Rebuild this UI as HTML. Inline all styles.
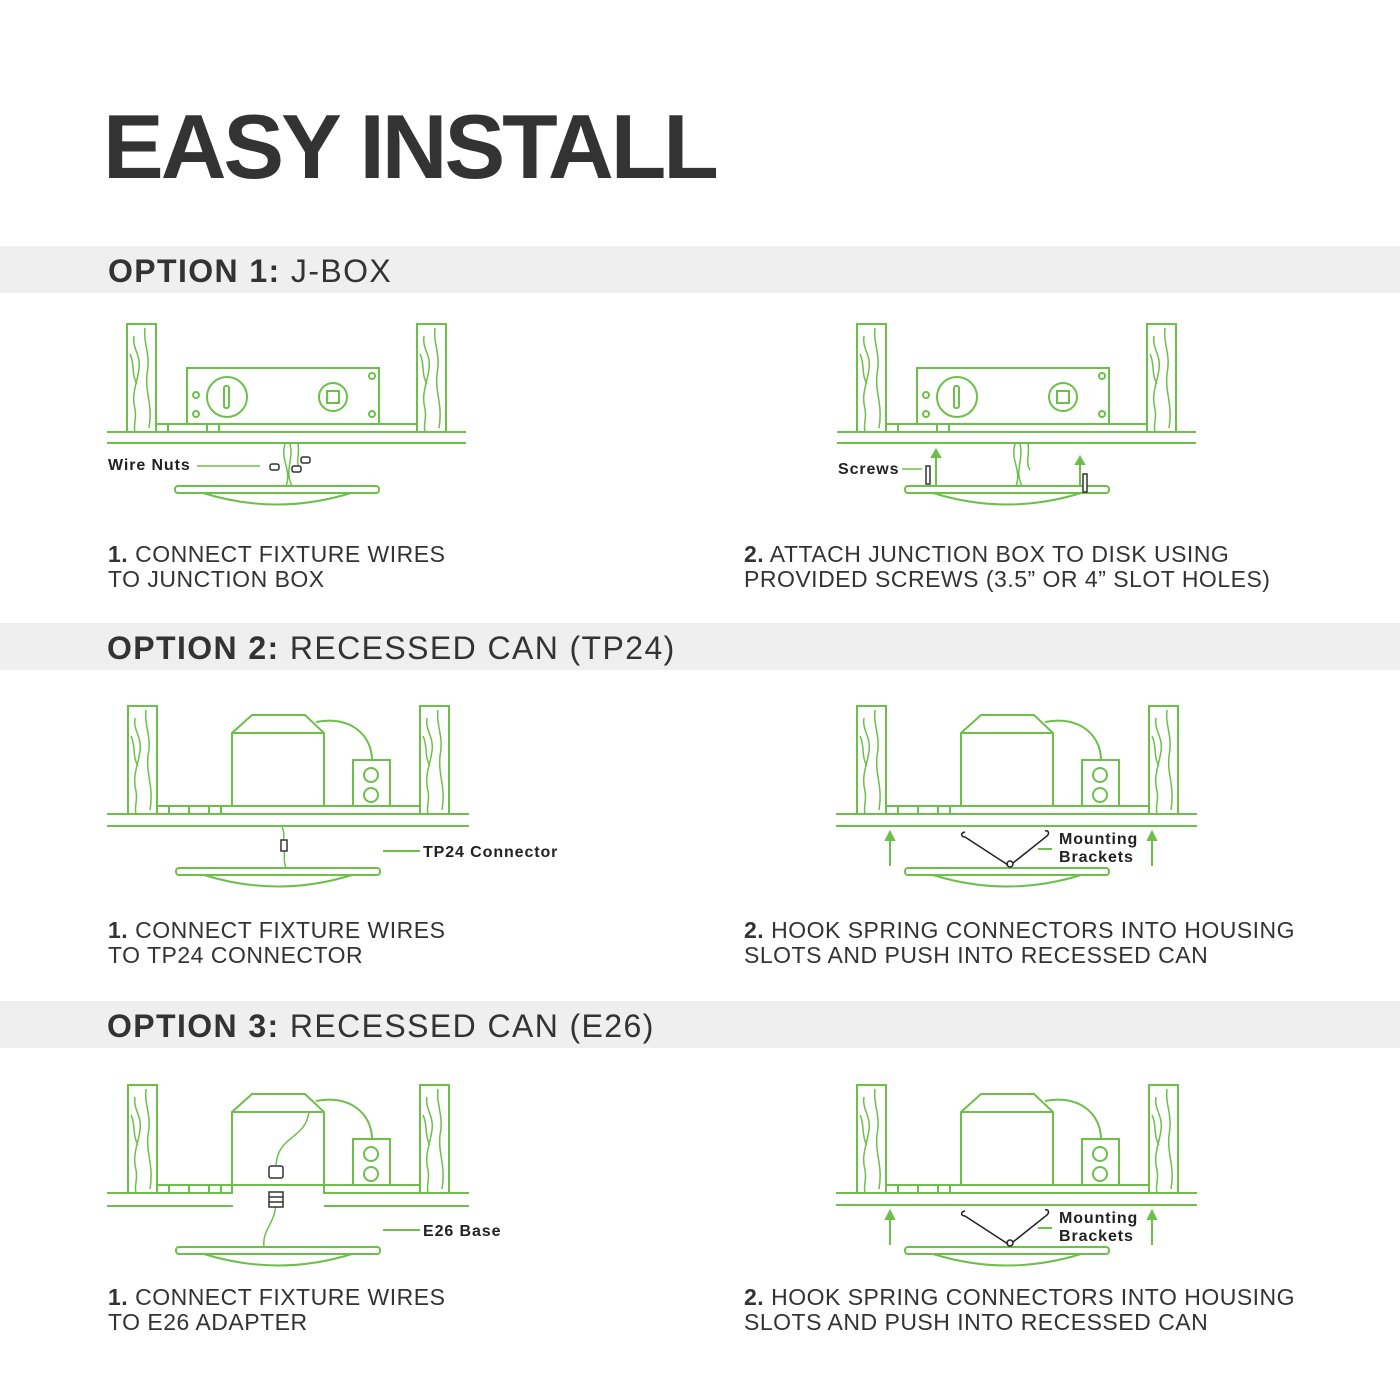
<!DOCTYPE html>
<html><head><meta charset="utf-8"><style>
body{margin:0;background:#fff;}
svg{display:block}
.t{font-family:"Liberation Sans",sans-serif;}
.h{letter-spacing:1.4px}
.s{letter-spacing:0.5px}
.l{letter-spacing:0.9px}
</style></head><body>
<svg width="1400" height="1400" viewBox="0 0 1400 1400" xmlns="http://www.w3.org/2000/svg">
<defs>
<g id="stud" fill="none" stroke="#6cc04a" stroke-width="2">
<rect x="0" y="0" width="29" height="108"/>
<path d="M7 12 C5 25 14 30 12 45 C10 60 4 70 8 85 C10 95 6 100 8 108" stroke-width="1.5"/>
<path d="M18 4 C16 20 24 30 20 50 C18 70 26 80 22 104" stroke-width="1.5"/>
<path d="M3 30 C8 40 4 50 10 60" stroke-width="1.5"/>
</g>
<g id="disk" fill="none" stroke="#6cc04a" stroke-width="2">
<rect x="0" y="0" width="204" height="7" rx="3"/>
<path d="M28 7 Q102 30 176 7"/>
</g>
<g id="jbox" fill="none" stroke="#6cc04a" stroke-width="2">
<use href="#stud" x="127" y="324"/><use href="#stud" x="417" y="324"/>
<line x1="107" y1="432" x2="466" y2="432"/><line x1="107" y1="443" x2="466" y2="443"/>
<rect x="156" y="424" width="261" height="8"/>
<line x1="168" y1="424" x2="168" y2="432"/><line x1="207" y1="424" x2="207" y2="432"/><line x1="219" y1="424" x2="219" y2="432"/>
<rect x="187" y="368" width="192" height="56" fill="#fff"/>
<circle cx="227" cy="397" r="20"/><rect x="224" y="386" width="5" height="22" rx="2"/>
<circle cx="333" cy="397" r="14"/><rect x="327" y="391" width="12" height="12"/>
<circle cx="196" cy="395" r="3"/><circle cx="196" cy="414" r="3"/><circle cx="372" cy="376" r="3"/><circle cx="372" cy="414" r="3"/>
<path d="M285 444 C280 460 292 470 286 486 M290 444 C294 460 284 470 292 486 M298 444 C300 455 295 462 300 470" stroke-width="1.5"/>
</g>
<g id="can" fill="none" stroke="#6cc04a" stroke-width="2">
<use href="#stud" x="128" y="706"/><use href="#stud" x="420" y="706"/>
<rect x="157" y="806" width="263" height="8"/>
<line x1="169" y1="806" x2="169" y2="814"/><line x1="189" y1="806" x2="189" y2="814"/><line x1="209" y1="806" x2="209" y2="814"/><line x1="221" y1="806" x2="221" y2="814"/>
<path d="M232 806 L232 733 L252 715 L305 715 L324 733 L324 806 Z M232 733 L324 733" fill="#fff"/>
<path d="M316 722 C350 715 372 735 372 760"/>
<rect x="353" y="760" width="37" height="46" fill="#fff"/>
<circle cx="371" cy="775" r="7"/><circle cx="371" cy="795" r="7"/>
</g>
</defs>

<text class="t" x="103" y="178" font-size="91" font-weight="bold" fill="#333" letter-spacing="-3">EASY INSTALL</text>

<rect x="0" y="246" width="1400" height="47" fill="#efefef"/>
<rect x="0" y="623" width="1400" height="47" fill="#efefef"/>
<rect x="0" y="1001" width="1400" height="47" fill="#efefef"/>
<text class="t h" x="108" y="282" font-size="32" fill="#333"><tspan font-weight="bold">OPTION 1:</tspan> J-BOX</text>
<text class="t h" x="107" y="659" font-size="32" fill="#333"><tspan font-weight="bold">OPTION 2:</tspan> RECESSED CAN (TP24)</text>
<text class="t h" x="107" y="1037" font-size="32" fill="#333"><tspan font-weight="bold">OPTION 3:</tspan> RECESSED CAN (E26)</text>

<!-- option 1 -->
<use href="#jbox"/>
<use href="#disk" x="175" y="486"/>
<g fill="#fff" stroke="#333" stroke-width="1.5">
<rect x="270" y="464" width="9" height="6" rx="2"/><rect x="292" y="466" width="9" height="6" rx="2"/><rect x="301" y="457" width="9" height="6" rx="2"/>
</g>
<line x1="197" y1="466" x2="260" y2="466" stroke="#6cc04a" stroke-width="1.5"/>
<text class="t l" x="108" y="470" font-size="16" font-weight="bold" fill="#222">Wire Nuts</text>
<g transform="translate(730,0)"><use href="#jbox"/></g>
<use href="#disk" x="905" y="486"/>
<line x1="902" y1="469" x2="922" y2="469" stroke="#6cc04a" stroke-width="1.5"/>
<text class="t l" x="838" y="474" font-size="16" font-weight="bold" fill="#222">Screws</text>
<g fill="#fff" stroke="#333" stroke-width="1.5"><rect x="926" y="466" width="4" height="18"/><rect x="1083" y="474" width="4" height="18"/></g>
<g stroke="#6cc04a" stroke-width="2" fill="#6cc04a">
<line x1="936" y1="486" x2="936" y2="455"/><path d="M932 457 L936 450 L940 457Z"/>
<line x1="1080" y1="486" x2="1080" y2="462"/><path d="M1076 464 L1080 457 L1084 464Z"/>
</g>
<text class="t s" x="108" y="562" font-size="23" fill="#333"><tspan font-weight="bold">1.</tspan> CONNECT FIXTURE WIRES</text>
<text class="t s" x="108" y="587" font-size="23" fill="#333">TO JUNCTION BOX</text>
<text class="t s" x="744" y="562" font-size="23" fill="#333"><tspan font-weight="bold">2.</tspan> ATTACH JUNCTION BOX TO DISK USING</text>
<text class="t s" x="744" y="587" font-size="23" fill="#333">PROVIDED SCREWS (3.5” OR 4” SLOT HOLES)</text>

<!-- option 2 -->
<use href="#can"/>
<g stroke="#6cc04a" stroke-width="2" fill="none">
<line x1="107" y1="814" x2="469" y2="814"/><line x1="107" y1="826" x2="469" y2="826"/>
<path d="M282 827 C286 835 282 840 284 845 C285 855 283 860 286 868" stroke-width="1.5"/>
<line x1="383" y1="851" x2="420" y2="851"/>
</g>
<rect x="281" y="840" width="6" height="11" fill="#fff" stroke="#333" stroke-width="1.5"/>
<use href="#disk" x="176" y="868"/>
<text class="t l" x="423" y="857" font-size="16" font-weight="bold" fill="#222">TP24 Connector</text>

<g transform="translate(729,0)"><use href="#can"/></g>
<g stroke="#6cc04a" stroke-width="2" fill="none">
<line x1="836" y1="814" x2="1197" y2="814"/><line x1="836" y1="826" x2="1197" y2="826"/>
</g>
<use href="#disk" x="905" y="868"/>
<g id="brk">
<g stroke="#6cc04a" stroke-width="2" fill="#6cc04a">
<line x1="890" y1="866" x2="890" y2="838"/><path d="M886 840 L890 832 L894 840Z"/>
<line x1="1152" y1="866" x2="1152" y2="838"/><path d="M1148 840 L1152 832 L1156 840Z"/>
<line x1="1038" y1="849" x2="1052" y2="849"/>
</g>
<g stroke="#222" stroke-width="1.5" fill="none">
<path d="M965 832 C960 833 961 837 965 837 L1008 865"/><path d="M1013 863 L1047 836 C1050 833 1048 830 1045 831"/>
<circle cx="1010" cy="864" r="3"/>
</g>
<text class="t l" x="1059" y="844" font-size="16" font-weight="bold" fill="#222">Mounting</text>
<text class="t l" x="1059" y="862" font-size="16" font-weight="bold" fill="#222">Brackets</text>
</g>
<text class="t s" x="108" y="938" font-size="23" fill="#333"><tspan font-weight="bold">1.</tspan> CONNECT FIXTURE WIRES</text>
<text class="t s" x="108" y="963" font-size="23" fill="#333">TO TP24 CONNECTOR</text>
<text class="t s" x="744" y="938" font-size="23" fill="#333"><tspan font-weight="bold">2.</tspan> HOOK SPRING CONNECTORS INTO HOUSING</text>
<text class="t s" x="744" y="963" font-size="23" fill="#333">SLOTS AND PUSH INTO RECESSED CAN</text>

<!-- option 3 -->
<g transform="translate(0,379)"><use href="#can"/></g>
<g stroke="#6cc04a" stroke-width="2" fill="none">
<line x1="232" y1="1185" x2="232" y2="1193"/><line x1="324" y1="1185" x2="324" y2="1193"/>
<rect x="233" y="1186" width="90" height="22" fill="#fff" stroke="none"/>
<line x1="107" y1="1193" x2="233" y2="1193"/><line x1="107" y1="1206" x2="233" y2="1206"/>
<line x1="324" y1="1193" x2="469" y2="1193"/><line x1="324" y1="1206" x2="469" y2="1206"/>
<path d="M309 1112 C305 1140 278 1135 276 1165" stroke-width="1.5"/>
<path d="M276 1205 C274 1225 262 1230 264 1247" stroke-width="1.5"/>
<line x1="383" y1="1230" x2="420" y2="1230"/>
</g>
<g fill="#fff" stroke="#333" stroke-width="1.5">
<rect x="269" y="1166" width="14" height="12" rx="2"/>
<rect x="269" y="1192" width="14" height="15"/>
<line x1="269" y1="1197" x2="283" y2="1197"/><line x1="269" y1="1202" x2="283" y2="1202"/>
</g>
<use href="#disk" x="176" y="1247"/>
<text class="t l" x="423" y="1236" font-size="16" font-weight="bold" fill="#222">E26 Base</text>

<g transform="translate(729,379)"><use href="#can"/></g>
<g stroke="#6cc04a" stroke-width="2" fill="none">
<line x1="836" y1="1193" x2="1197" y2="1193"/><line x1="836" y1="1205" x2="1197" y2="1205"/>
</g>
<use href="#disk" x="905" y="1247"/>
<use href="#brk" y="379"/>
<text class="t s" x="108" y="1305" font-size="23" fill="#333"><tspan font-weight="bold">1.</tspan> CONNECT FIXTURE WIRES</text>
<text class="t s" x="108" y="1330" font-size="23" fill="#333">TO E26 ADAPTER</text>
<text class="t s" x="744" y="1305" font-size="23" fill="#333"><tspan font-weight="bold">2.</tspan> HOOK SPRING CONNECTORS INTO HOUSING</text>
<text class="t s" x="744" y="1330" font-size="23" fill="#333">SLOTS AND PUSH INTO RECESSED CAN</text>
</svg>
</body></html>
